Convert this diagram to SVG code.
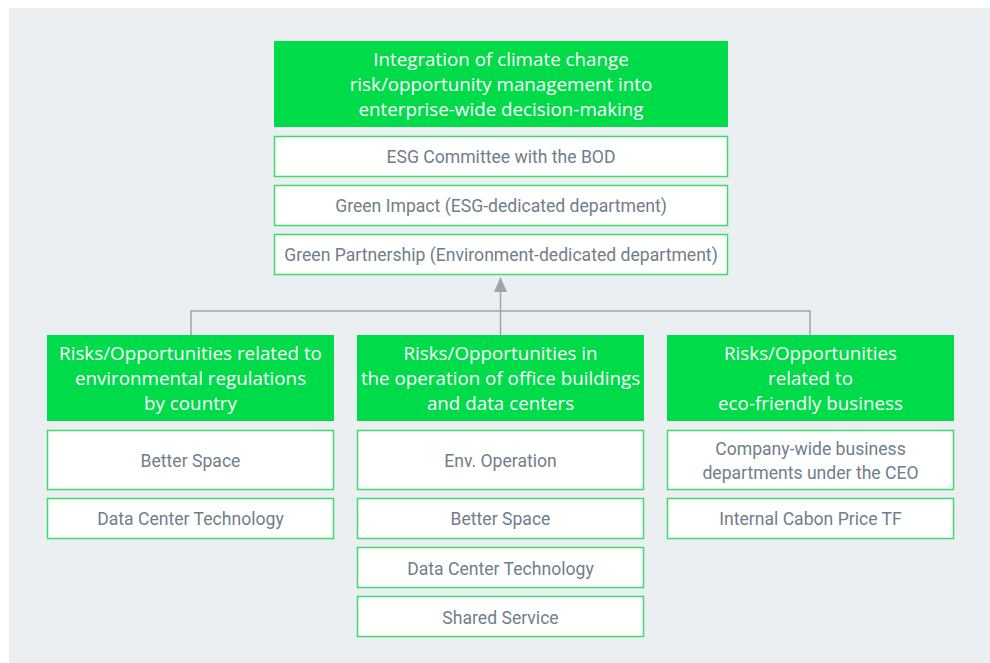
<svg xmlns="http://www.w3.org/2000/svg" width="990" height="663" viewBox="0 0 990 663">
  <style>
    .hd { fill: #00db4a; }
    .bx { fill: #ffffff; stroke: #3ddc6a; stroke-width: 1.5; }
    .ht { font-family: "Open Sans", "Noto Sans", sans-serif; font-size: 18.8px; fill: #ffffff; text-anchor: middle; }
    .bt { font-family: "Roboto", "Liberation Sans", sans-serif; font-size: 17.6px; fill: #707e8a; text-anchor: middle; }
    .ln { fill: none; stroke: #9aa6ae; stroke-width: 1.5; }
  </style>

  <!-- panel -->
  <rect x="9" y="8" width="981" height="655" fill="#ebeff2"/>

  <!-- connectors -->
  <g id="connectors">
    <path class="ln" d="M191 336 V311 H810 V336"/>
    <line class="ln" x1="500.5" y1="336" x2="500.5" y2="291"/>
    <path d="M494 292 L500.5 277 L507 292 Z" fill="#9aa6ae"/>
  </g>

  <!-- top -->
  <g id="top">
    <rect class="hd" x="274" y="41" width="454" height="86"/>
    <text class="ht" x="501" y="65.5">Integration of climate change</text>
    <text class="ht" x="501" y="90.5">risk/opportunity management into</text>
    <text class="ht" x="501" y="115.5">enterprise-wide decision-making</text>
  </g>
  <g id="esg-committee">
    <rect class="bx" x="274.5" y="136.5" width="453" height="40"/>
    <text class="bt" x="501" y="162.5">ESG Committee with the BOD</text>
  </g>
  <g id="green-impact">
    <rect class="bx" x="274.5" y="185.5" width="453" height="40"/>
    <text class="bt" x="501" y="211.5">Green Impact (ESG-dedicated department)</text>
  </g>
  <g id="green-partnership">
    <rect class="bx" x="274.5" y="234.5" width="453" height="40"/>
    <text class="bt" x="501" y="260.5">Green Partnership (Environment-dedicated department)</text>
  </g>

  <!-- left column -->
  <g id="regulations">
    <rect class="hd" x="47" y="335" width="287" height="86"/>
    <text class="ht" x="190.5" y="360">Risks/Opportunities related to</text>
    <text class="ht" x="190.5" y="385">environmental regulations</text>
    <text class="ht" x="190.5" y="410">by country</text>
  </g>
  <g id="left-better-space">
    <rect class="bx" x="47.5" y="430.5" width="286" height="59"/>
    <text class="bt" x="190.5" y="466.5">Better Space</text>
  </g>
  <g id="left-data-center">
    <rect class="bx" x="47.5" y="498.5" width="286" height="40"/>
    <text class="bt" x="190.5" y="524.5">Data Center Technology</text>
  </g>

  <!-- middle column -->
  <g id="operation">
    <rect class="hd" x="357" y="335" width="287" height="86"/>
    <text class="ht" x="500.5" y="360">Risks/Opportunities in</text>
    <text class="ht" x="500.5" y="385">the operation of office buildings</text>
    <text class="ht" x="500.5" y="410">and data centers</text>
  </g>
  <g id="env-operation">
    <rect class="bx" x="357.5" y="430.5" width="286" height="59"/>
    <text class="bt" x="500.5" y="466.5">Env. Operation</text>
  </g>
  <g id="mid-better-space">
    <rect class="bx" x="357.5" y="498.5" width="286" height="40"/>
    <text class="bt" x="500.5" y="524.5">Better Space</text>
  </g>
  <g id="mid-data-center">
    <rect class="bx" x="357.5" y="547.5" width="286" height="40"/>
    <text class="bt" x="500.5" y="574.5">Data Center Technology</text>
  </g>
  <g id="shared-service">
    <rect class="bx" x="357.5" y="596.5" width="286" height="40"/>
    <text class="bt" x="500.5" y="623.5">Shared Service</text>
  </g>

  <!-- right column -->
  <g id="eco-business">
    <rect class="hd" x="667" y="335" width="287" height="86"/>
    <text class="ht" x="810.5" y="360">Risks/Opportunities</text>
    <text class="ht" x="810.5" y="385">related to</text>
    <text class="ht" x="810.5" y="410">eco-friendly business</text>
  </g>
  <g id="business-departments">
    <rect class="bx" x="667.5" y="430.5" width="286" height="59"/>
    <text class="bt" x="810.5" y="455">Company-wide business</text>
    <text class="bt" x="810.5" y="479">departments under the CEO</text>
  </g>
  <g id="carbon-price">
    <rect class="bx" x="667.5" y="498.5" width="286" height="40"/>
    <text class="bt" x="810.5" y="524.5">Internal Cabon Price TF</text>
  </g>
</svg>
